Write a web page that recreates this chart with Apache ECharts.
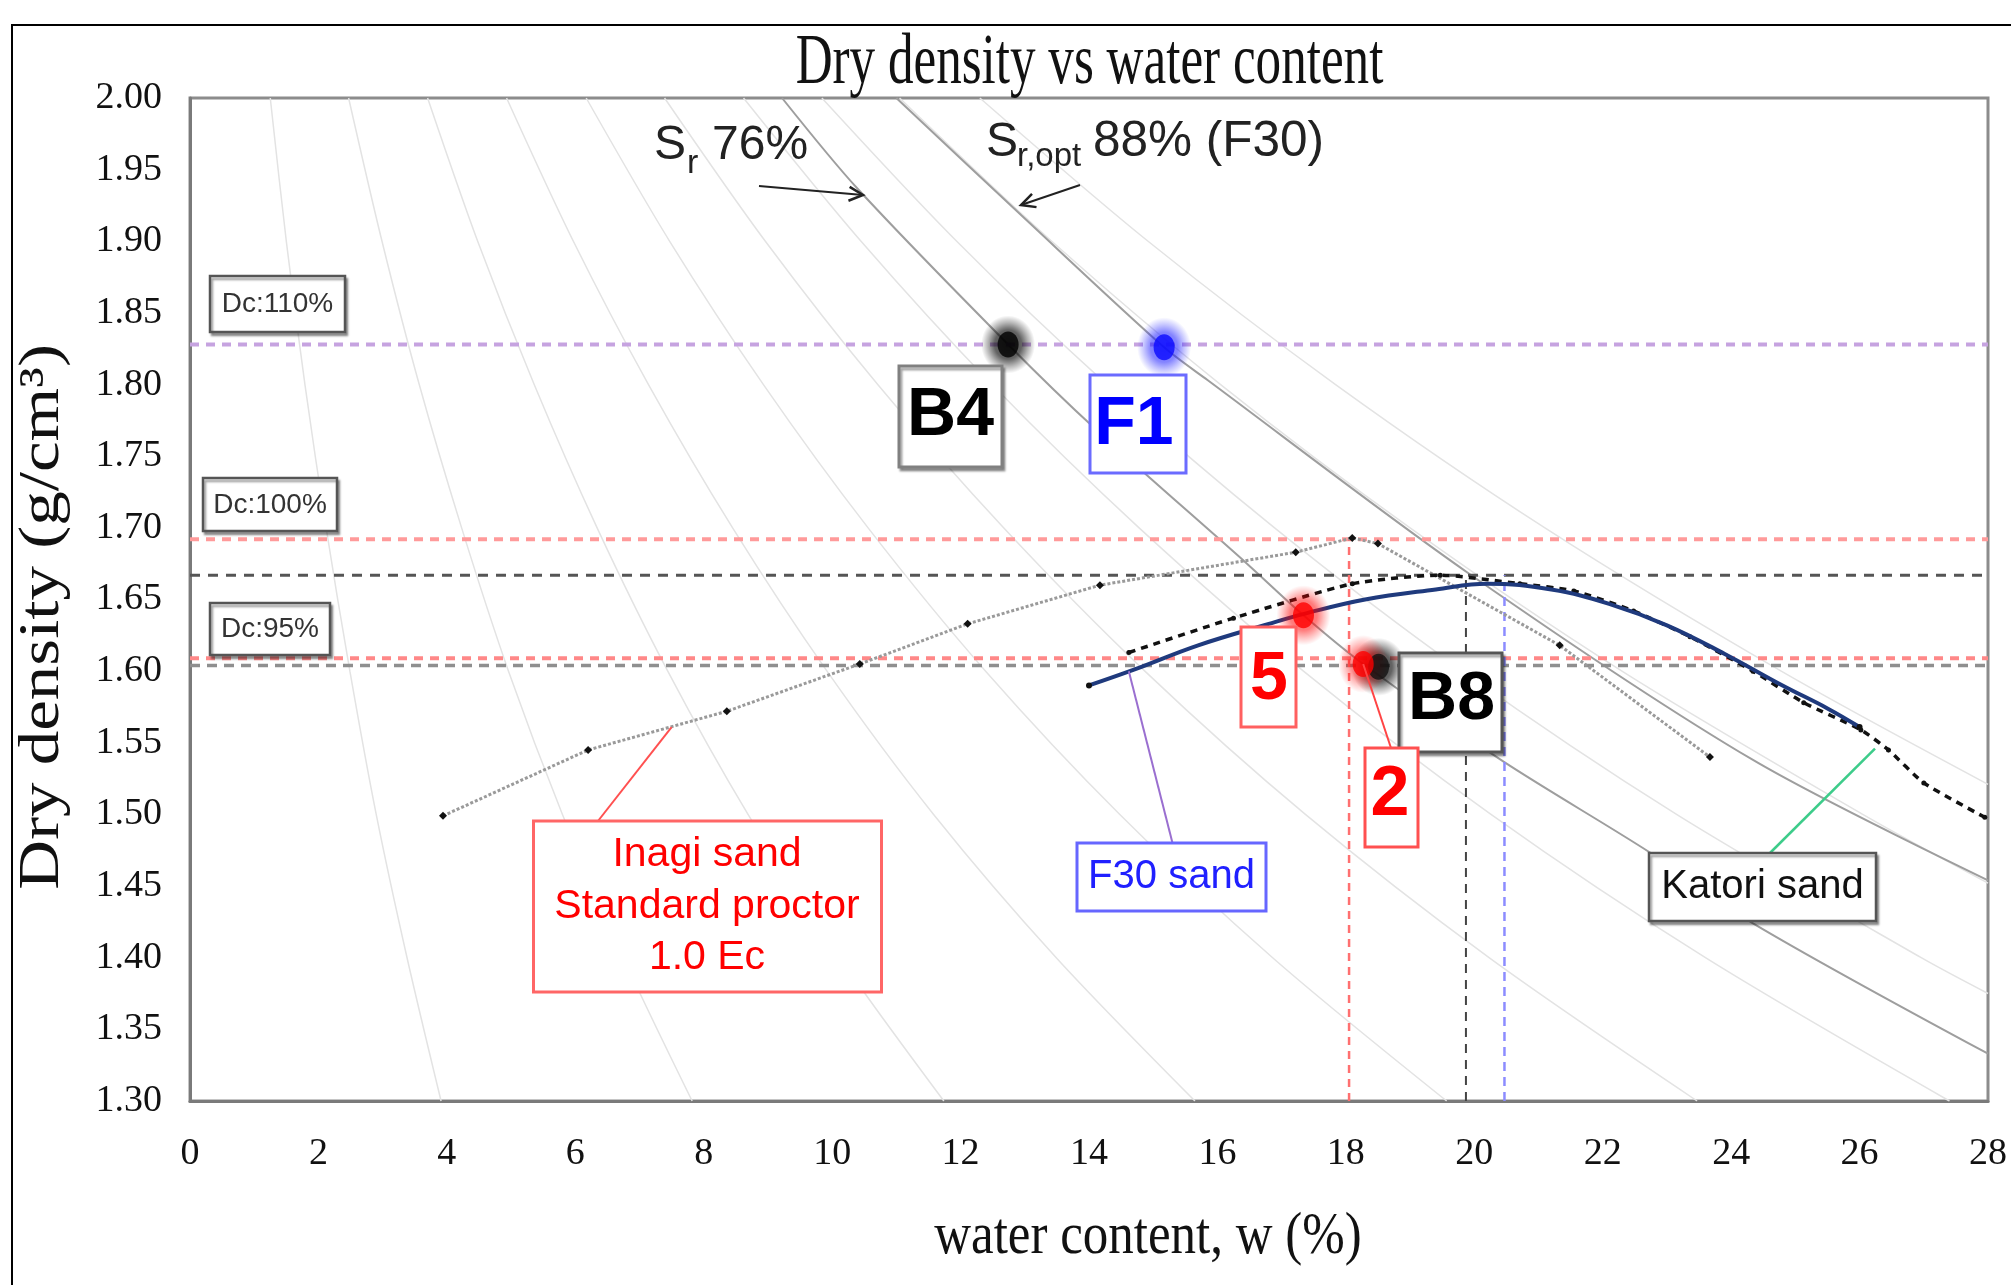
<!DOCTYPE html>
<html><head><meta charset="utf-8">
<script src="https://cdn.jsdelivr.net/npm/echarts/dist/echarts.min.js"></script>
<style>html,body{margin:0;padding:0;background:#fff}#c{width:2011px;height:1285px}</style>
</head><body><div id="c"></div>
<script>
// ---------- axis ticks ----------
const xTicks = [0,2,4,6,8,10,12,14,16,18,20,22,24,26,28];
const yTicks = [1.30,1.35,1.40,1.45,1.50,1.55,1.60,1.65,1.70,1.75,1.80,1.85,1.90,1.95,2.00];

// ---------- compaction curves (w %, dry density g/cm3) ----------
const inagiW   = [3.94, 6.20, 8.36, 10.43, 12.11, 14.17, 17.22, 18.10, 18.50, 21.33, 23.67];
const inagiRho = [1.499,1.545,1.572,1.605,1.633,1.660,1.683,1.693,1.689,1.618,1.540];

const f30W   = [14.00,14.70,15.70,16.80,17.35,18.30,19.40,20.20,21.20,22.10,23.00,23.90,24.80,25.50,26.00];
const f30Rho = [1.590,1.601,1.618,1.633,1.640,1.650,1.657,1.661,1.657,1.647,1.632,1.612,1.590,1.574,1.561];

const katoriW   = [14.62,16.25,18.10,19.47,20.71,21.55,22.48,23.36,24.34,25.13,26.02,26.45,27.00,27.95];
const katoriRho = [1.613,1.637,1.661,1.667,1.661,1.656,1.642,1.624,1.600,1.578,1.559,1.545,1.522,1.498];

// ---------- saturation lines ----------
const sr10  = [[1.25,2.00],[1.50,1.90],[1.79,1.80],[2.12,1.70],[2.49,1.60],[2.90,1.50],[3.38,1.40],[3.91,1.30]];
const sr20  = [[2.47,2.00],[2.99,1.90],[3.57,1.80],[4.23,1.70],[4.96,1.60],[5.80,1.50],[6.75,1.40],[7.82,1.30]];
const sr30  = [[3.70,2.00],[4.48,1.90],[5.36,1.80],[6.34,1.70],[7.44,1.60],[8.69,1.50],[10.12,1.40],[11.74,1.30]];
const sr40  = [[4.93,2.00],[5.97,1.90],[7.14,1.80],[8.45,1.70],[9.92,1.60],[11.58,1.50],[13.49,1.40],[15.65,1.30]];
const sr50  = [[6.17,2.00],[7.47,1.90],[8.93,1.80],[10.56,1.70],[12.39,1.60],[14.48,1.50],[16.86,1.40],[19.57,1.30]];
const sr60  = [[7.39,2.00],[8.96,1.90],[10.71,1.80],[12.67,1.70],[14.87,1.60],[17.37,1.50],[20.23,1.40],[23.47,1.30]];
const sr70  = [[8.62,2.00],[10.45,1.90],[12.49,1.80],[14.78,1.70],[17.34,1.60],[20.26,1.50],[23.60,1.40],[27.40,1.30]];
const sr80  = [[9.84,2.00],[11.94,1.90],[14.28,1.80],[16.89,1.70],[19.82,1.60],[23.15,1.50],[26.96,1.40],[28.00,1.375]];
const sr90  = [[11.05,2.00],[13.42,1.90],[16.05,1.80],[19.00,1.70],[22.30,1.60],[26.05,1.50],[28.00,1.452]];
const sr100 = [[12.30,2.00],[14.92,1.90],[17.84,1.80],[21.10,1.70],[24.78,1.60],[28.00,1.521]];
const sr76  = [[9.22,2.000],[10.39,1.937],[12.74,1.828],[14.10,1.769],[16.46,1.675],[17.34,1.639],[18.27,1.605],[20.45,1.537],[22.75,1.473],[24.34,1.424],[28.00,1.333]];
const sr88  = [[11.00,2.000],[12.95,1.918],[15.17,1.826],[15.85,1.803],[19.92,1.668],[24.34,1.538],[28.00,1.454]];

// ---------- reference lines ----------
const refY      = [1.828, 1.692, 1.667, 1.609, 1.604];
const refX      = [18.05, 19.87, 20.47];
const refXTop   = [1.692, 1.667, 1.667];

// ---------- test points ----------
const ptB4 = [12.74, 1.828];
const ptF1 = [15.17, 1.826];
const pt5  = [17.34, 1.639];
const ptB8 = [18.51, 1.603];
const pt2  = [18.27, 1.605];

// ---------- styles ----------
const SERIF = '"Liberation Serif","Times New Roman",serif';
const SANS  = '"Liberation Sans",Arial,sans-serif';
const refYStyle = [
  {color:'#c6a3e0', width:4, type:[9,7]},
  {color:'#ff9a9a', width:4, type:[9,7]},
  {color:'#555555', width:3, type:[10,8]},
  {color:'#ff8888', width:4, type:[9,7]},
  {color:'#8f8f8f', width:3.5, type:[10,7]}
];
const refXStyle = [
  {color:'#ff7070', width:2.5, type:[8,6]},
  {color:'#444444', width:2, type:[9,7]},
  {color:'#8c8cff', width:2.5, type:[9,6]}
];

const zip = (a,b) => a.map((v,i)=>[v,b[i]]);
const chart = echarts.init(document.getElementById('c'), null, {renderer:'canvas', width:2011, height:1285});

const xMin = xTicks[0], xMax = xTicks[xTicks.length-1];
const yMin = yTicks[0], yMax = yTicks[yTicks.length-1];

const series = [];
[sr10,sr20,sr30,sr40,sr50,sr60,sr70,sr80,sr90,sr100].forEach(d => series.push({
  type:'line', data:d, smooth:0.3, symbol:'none', silent:true, z:1,
  lineStyle:{color:'#e3e3e3', width:1.5}
}));
[sr76, sr88].forEach(d => series.push({
  type:'line', data:d, smooth:0.3, symbol:'none', silent:true, z:2,
  lineStyle:{color:'#9e9e9e', width:2}
}));
refY.forEach((y,i) => series.push({
  type:'line', data:[[xMin,y],[xMax,y]], symbol:'none', silent:true, z:3,
  lineStyle:refYStyle[i]
}));
refX.forEach((x,i) => series.push({
  type:'line', data:[[x,yMin],[x,refXTop[i]]], symbol:'none', silent:true, z:3,
  lineStyle:refXStyle[i]
}));
series.push({
  name:'Inagi sand', type:'line', data:zip(inagiW,inagiRho), z:4,
  symbol:'diamond', symbolSize:8, itemStyle:{color:'#111'},
  lineStyle:{color:'#9a9a9a', width:3, type:[3,2]}
});
series.push({
  name:'Katori sand', type:'line', data:zip(katoriW,katoriRho), z:5, smooth:0.2,
  symbol:'circle', symbolSize:5, itemStyle:{color:'#111'},
  lineStyle:{color:'#111', width:3.5, type:[7,6]}
});
const f30Data = zip(f30W,f30Rho).map((p,i,a) => (i===0||i===a.length-1) ? {value:p, symbol:'circle', symbolSize:6} : {value:p});
series.push({
  name:'F30 sand', type:'line', data:f30Data, z:6, smooth:0.4,
  symbol:'none', itemStyle:{color:'#111'},
  lineStyle:{color:'#1f3a7d', width:4}
});
function halo(d, rgb, a, size){
  return {type:'scatter', data:[d], symbol:'circle', symbolSize:size, z:7, silent:true,
    itemStyle:{color:{type:'radial', x:0.5, y:0.5, r:0.5, colorStops:[
      {offset:0, color:'rgba('+rgb+','+a+')'},
      {offset:0.5, color:'rgba('+rgb+','+(a*0.85)+')'},
      {offset:0.75, color:'rgba('+rgb+','+(a*0.4)+')'},
      {offset:1, color:'rgba('+rgb+',0)'}]}}};
}
function pt(d, color){
  return {type:'scatter', data:[d], symbol:'circle', symbolSize:[21,26], z:8,
    itemStyle:{color:color}};
}
series.push(halo(ptB4,'0,0,0',0.9,[54,58]));
series.push(pt(ptB4,'#000'));
series.push(halo(ptF1,'30,30,255',0.8,[54,60]));
series.push(pt(ptF1,'#0a0aff'));
series.push(halo(pt5,'255,0,0',0.75,[54,60]));
series.push(pt(pt5,'#ff0000'));
series.push(halo(ptB8,'0,0,0',0.9,[54,58]));
series.push(pt(ptB8,'#111'));
series.push(halo(pt2,'255,0,0',0.65,[50,58]));
series.push(pt(pt2,'#ff0000'));

chart.setOption({
  animation:false,
  backgroundColor:'#fff',
  grid:{left:190, right:23, top:98, bottom:184, show:true, borderColor:'#8c8c8c', borderWidth:3, backgroundColor:'#fff'},
  xAxis:{type:'value', min:xMin, max:xMax, interval:2,
    axisLine:{show:true, onZero:false, lineStyle:{color:'#7a7a7a', width:3}},
    axisTick:{show:false}, splitLine:{show:false},
    axisLabel:{fontFamily:SERIF, fontSize:38, color:'#111', margin:34}},
  yAxis:{type:'value', min:yMin, max:yMax, interval:0.05,
    axisLine:{show:true, lineStyle:{color:'#7a7a7a', width:3}},
    axisTick:{show:false}, splitLine:{show:false},
    axisLabel:{fontFamily:SERIF, fontSize:38, color:'#111', margin:28, formatter:v=>v.toFixed(2)}},
  series:series
});

// ---------- annotations ----------
const P = (d) => chart.convertToPixel({gridIndex:0}, d);
const G = [];
const Z = 50;
function line(a,b,color,w){ G.push({type:'line', z:Z, shape:{x1:a[0],y1:a[1],x2:b[0],y2:b[1]}, style:{stroke:color, lineWidth:w}}); }
function arrow(from,to,color){
  const dx=to[0]-from[0], dy=to[1]-from[1], L=Math.hypot(dx,dy), ux=dx/L, uy=dy/L, px=-uy, py=ux, hl=14, hw=7;
  line(from,to,color,2);
  G.push({type:'polyline', z:Z, shape:{points:[[to[0]-hl*ux+hw*px,to[1]-hl*uy+hw*py],to,[to[0]-hl*ux-hw*px,to[1]-hl*uy-hw*py]]}, style:{stroke:color, lineWidth:2.5, fill:null}});
}
function box(x,y,w,h,stroke,lw,shadow){
  G.push({type:'rect', z:Z, shape:{x:x,y:y,width:w,height:h},
    style:{fill:'#fff', stroke:stroke, lineWidth:lw,
      shadowColor: shadow ? 'rgba(0,0,0,0.35)' : 'transparent', shadowOffsetX: shadow?2:0, shadowOffsetY: shadow?3:0, shadowBlur: shadow?2:0}});
}
function text(t,x,y,opt){
  G.push(Object.assign({type:'text', z:Z+1, x:x, y:y,
    style:Object.assign({text:t, fill:'#111', align:'center', verticalAlign:'middle', fontFamily:SANS, fontSize:40}, opt.style||{})},
    opt.el||{}));
}

// outer frame
G.push({type:'polyline', z:Z, shape:{points:[[12,1285],[12,25],[2011,25]]}, style:{stroke:'#000', lineWidth:2, fill:null}});
// title & axis names
text('Dry density vs water content', 1089.5, 64.5, {style:{fontFamily:SERIF, fontSize:72, fill:'#111'}, el:{scaleX:0.71}});
text('water content, w (%)', 1148, 1237, {style:{fontFamily:SERIF, fontSize:60, fill:'#111'}, el:{scaleX:0.85}});
text('Dry density (g/cm³)', 43.5, 617, {style:{fontFamily:SERIF, fontSize:60, fill:'#111'}, el:{rotation:Math.PI/2, scaleX:1.15, scaleY:0.95}});

// Sr labels
text('S', 654, 145.5, {style:{fontSize:48, align:'left', fill:'#222'}});
text('r', 687, 164, {style:{fontSize:34, align:'left', fill:'#222'}});
text('76%', 712, 145.5, {style:{fontSize:48, align:'left', fill:'#222'}});
text('S', 986, 142.5, {style:{fontSize:48, align:'left', fill:'#222'}});
text('r,opt', 1017, 156.5, {style:{fontSize:33, align:'left', fill:'#222'}});
text('88% (F30)', 1093, 142.5, {style:{fontSize:49.5, align:'left', fill:'#222'}});
arrow([759,186],[863,195],'#222');
arrow([1080,185],[1021,205],'#222');

// Dc boxes
box(210,276,135,56,'#555',2.5,true);  text('Dc:110%',277.5,304,{style:{fontSize:28, fill:'#333'}});
box(203,478,134,53,'#555',2.5,true);  text('Dc:100%',270,505,{style:{fontSize:28, fill:'#333'}});
box(210,603,120,52,'#555',2.5,true);  text('Dc:95%',270,629,{style:{fontSize:28, fill:'#333'}});

// point labels
box(899,366,103,101,'#808080',3,true); text('B4',950.5,416,{style:{fontSize:68, fontWeight:'bold', fill:'#000'}});
box(1090,375,96,98,'#6b6bff',3,false); text('F1',1134,425,{style:{fontSize:68, fontWeight:'bold', fill:'#0000ff'}});
box(1241,627,55,100,'#ff6060',3,false); text('5',1269,680,{style:{fontSize:68, fontWeight:'bold', fill:'#ff0000'}});
box(1399,653,103,99,'#555',3,true);    text('B8',1451.5,700,{style:{fontSize:68, fontWeight:'bold', fill:'#000'}});
// leader for 2
const p2 = P(pt2);
line(p2,[1391,748],'#ff4444',2);
box(1365,748,53,99,'#ff5050',3,false); text('2',1390,796,{style:{fontSize:70, fontWeight:'bold', fill:'#ff0000'}});

// curve labels with leaders
line([598,821], P([7.50,1.561]), '#ff5050', 2);
box(533.5,821,348,171,'#ff6666',3,false);
text('Inagi sand',707,855,{style:{fontSize:41, fill:'#ff0000'}});
text('Standard proctor',707,907,{style:{fontSize:41, fill:'#ff0000'}});
text('1.0 Ec',707,958,{style:{fontSize:41, fill:'#ff0000'}});

line([1172.5,843], P([14.62,1.600]), '#9a6fd0', 2);
box(1077,843,189,68,'#6666ff',3,false);
text('F30 sand',1171.5,877,{style:{fontSize:40, fill:'#2020ff'}});

line([1770,853], P([26.24,1.546]), '#3dcc8a', 2.5);
box(1649,853,227,68,'#555',2.5,true);
text('Katori sand',1762.5,887,{style:{fontSize:40, fill:'#111'}});

chart.setOption({graphic:G});
</script></body></html>
